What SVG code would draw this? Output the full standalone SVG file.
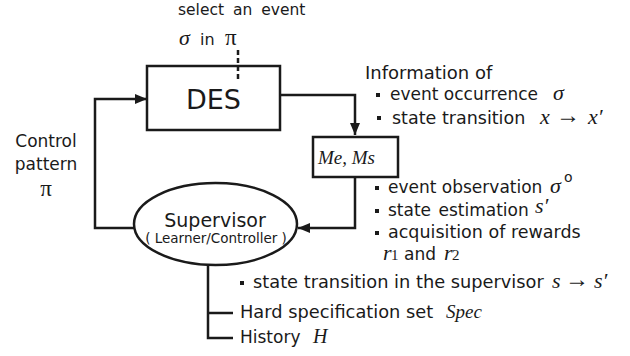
<svg xmlns="http://www.w3.org/2000/svg" width="630" height="356" viewBox="0 0 630 356">
<style>
.t{font-family:"DejaVu Sans",Verdana,sans-serif;font-size:17px;fill:#1a1a1a}
.m{font-family:"Liberation Serif","Times New Roman",serif;font-style:italic;font-size:22px;fill:#1a1a1a}
.mu{font-family:"Liberation Serif","Times New Roman",serif;font-size:22px;fill:#1a1a1a}
.ar{font-family:"Liberation Serif","Times New Roman",serif;font-size:24px;fill:#1a1a1a}
.ln{fill:none;stroke:#1a1a1a;stroke-width:2.5}
.b{fill:#1a1a1a}
</style>
<defs>
<marker id="ah" markerUnits="userSpaceOnUse" markerWidth="12" markerHeight="10" refX="12" refY="5" orient="auto">
<path d="M0,0 L12,5 L0,10 z" fill="#1a1a1a"/>
</marker>
</defs>
<rect width="630" height="356" fill="#fff"/>
<g id="connectors">
<path class="ln" d="M280,95 H355 V135" marker-end="url(#ah)"/>
<path class="ln" d="M355,177 V228 H298" marker-end="url(#ah)"/>
<path class="ln" d="M134,228 H95 V99 H147" marker-end="url(#ah)"/>
<path class="ln" d="M208,265 V338 H233 M208,313 H233"/>
<path class="ln" d="M238,50 V80" stroke-dasharray="5,3"/>
</g>
<g id="des">
<rect class="ln" x="147" y="66" width="133" height="64"/>
<text class="t" x="213.5" y="109" text-anchor="middle" style="font-size:27px">DES</text>
</g>
<g id="mems">
<rect class="ln" x="313" y="137" width="85" height="40"/>
<text class="m" x="318" y="164" style="font-size:19px">Me,  Ms</text>
</g>
<g id="supervisor">
<ellipse class="ln" cx="215.5" cy="224" rx="81.5" ry="41"/>
<text class="t" x="215" y="227" text-anchor="middle" style="font-size:19px">Supervisor</text>
<text class="t" x="216" y="243" text-anchor="middle" style="font-size:13.5px">( Learner/Controller )</text>
</g>
<g id="labels">
<text class="t" x="178" y="15" style="font-size:15.5px;word-spacing:4px">select an event</text>
<text class="m" x="179" y="45">σ</text>
<text class="t" x="200" y="45" style="font-size:16px">in</text>
<text class="mu" x="225" y="45" style="font-size:23px">π</text>
<text class="t" x="46" y="147" text-anchor="middle">Control</text>
<text class="t" x="46" y="170" text-anchor="middle">pattern</text>
<text class="mu" x="46" y="196" text-anchor="middle" style="font-size:23px">π</text>

<text class="t" x="365" y="79" style="font-size:18px">Information of</text>
<rect class="b" x="376" y="93" width="4" height="4"/>
<text class="t" x="390" y="100">event occurrence</text>
<text class="m" x="553" y="100">σ</text>
<rect class="b" x="377" y="116" width="4" height="4"/>
<text class="t" x="392" y="124" style="font-size:17.5px">state transition</text>
<text class="m" x="540" y="124">x</text>
<text class="ar" x="556" y="123">→</text>
<text class="m" x="588" y="124">x′</text>

<rect class="b" x="375" y="186" width="4" height="4"/>
<text class="t" x="388" y="193">event observation</text>
<text class="m" x="550" y="193">σ</text>
<text class="t" x="564" y="182" style="font-size:14px">o</text>
<rect class="b" x="375" y="209" width="4" height="4"/>
<text class="t" x="388" y="216" style="word-spacing:2px">state estimation</text>
<text class="m" x="535" y="213">s′</text>
<rect class="b" x="375" y="231" width="4" height="4"/>
<text class="t" x="388" y="238" style="font-size:17.5px">acquisition of rewards</text>
<text class="m" x="383" y="260">r</text>
<text class="mu" x="391" y="260" style="font-size:15px">1</text>
<text class="t" x="404" y="260">and</text>
<text class="m" x="444" y="260">r</text>
<text class="mu" x="452" y="260" style="font-size:15px">2</text>

<rect class="b" x="240" y="281" width="4" height="4"/>
<text class="t" x="253" y="288" style="font-size:17.8px">state transition in the supervisor</text>
<text class="m" x="552" y="288">s</text>
<text class="ar" x="565" y="287">→</text>
<text class="m" x="594" y="288">s′</text>

<text class="t" x="240" y="318" style="font-size:17.8px">Hard specification set</text>
<text class="m" x="446" y="318" style="font-size:19px">Spec</text>
<text class="t" x="240" y="343">History</text>
<text class="m" x="313" y="343" style="font-size:20px">H</text>
</g>
</svg>
